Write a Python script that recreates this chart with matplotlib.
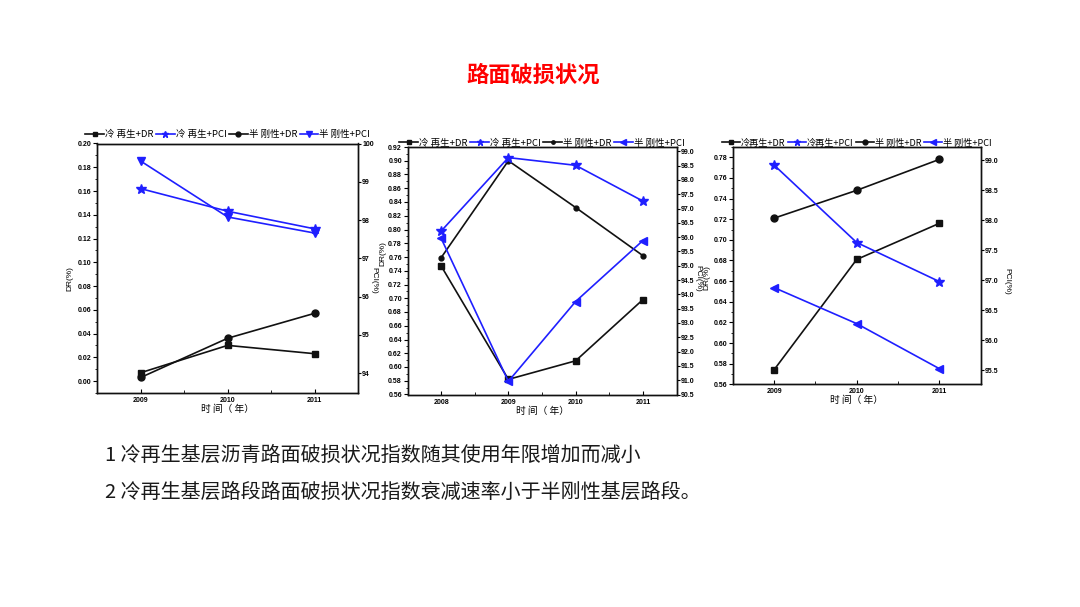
import matplotlib
matplotlib.use("Agg")
import matplotlib.pyplot as plt
from matplotlib.ticker import MultipleLocator, FormatStrFormatter

plt.rcParams['font.family'] = ['Noto Sans CJK SC', 'DejaVu Sans']

# ---------------- data ----------------
title_text = "路面破损状况"
note_lines = ["1 冷再生基层沥青路面破损状况指数随其使用年限增加而减小",
              "2 冷再生基层路段路面破损状况指数衰减速率小于半刚性基层路段。"]
xlabel_text = "时 间（ 年）"

p1_years = [2009, 2010, 2011]
p1_cold_dr = [0.007, 0.030, 0.023]
p1_semi_dr = [0.003, 0.036, 0.057]
p1_cold_pci = [98.82, 98.23, 97.77]
p1_semi_pci = [99.54, 98.08, 97.66]
p1_labels = ["冷 再生+DR", "冷 再生+PCI", "半 刚性+DR", "半 刚性+PCI"]

p2_years = [2008, 2009, 2010, 2011]
p2_cold_dr = [0.747, 0.582, 0.609, 0.698]
p2_semi_dr = [0.759, 0.900, 0.832, 0.762]
p2_cold_pci = [96.21, 98.78, 98.51, 97.26]
p2_semi_pci = [95.96, 90.96, 93.75, 95.88]
p2_labels = ["冷 再生+DR", "冷 再生+PCI", "半 刚性+DR", "半 刚性+PCI"]

p3_years = [2009, 2010, 2011]
p3_cold_dr = [0.574, 0.681, 0.716]
p3_semi_dr = [0.721, 0.748, 0.778]
p3_cold_pci = [98.92, 97.63, 96.98]
p3_semi_pci = [96.88, 96.28, 95.53]
p3_labels = ["冷再生+DR", "冷再生+PCI", "半 刚性+DR", "半 刚性+PCI"]

BLACK = "#111111"
BLUE = "#1f1fff"
LATIN = ['Liberation Sans', 'DejaVu Sans']

fig = plt.figure(figsize=(10.8, 6.07), dpi=100)
fig.patch.set_facecolor("white")


def panel(rect, years, cdr, sdr, cpci, spci, labels, xlim, ylim_l, ylim_r,
          lstep, rstep, lfmt, rfmt, lticks0, rticks0, semi_pci_marker,
          semi_dr_ms, dr_pos, pci_pos, leg_y, leg_fs):
    ax = fig.add_axes(rect)
    ax2 = ax.twinx()
    h1, = ax.plot(years, cdr, color=BLACK, marker='s', ms=5, lw=1.2)
    h3, = ax.plot(years, sdr, color=BLACK, marker='o', ms=semi_dr_ms, lw=1.2)
    h2, = ax2.plot(years, cpci, color=BLUE, marker='*', ms=7, lw=1.2)
    h4, = ax2.plot(years, spci, color=BLUE, marker=semi_pci_marker, ms=6, lw=1.2)
    ax.set_xlim(*xlim)
    ax.set_ylim(*ylim_l)
    ax2.set_ylim(*ylim_r)
    ax.set_xticks(years)
    ax.set_xticklabels([str(y) for y in years])
    ax.xaxis.set_minor_locator(MultipleLocator(0.5))
    ax.yaxis.set_major_locator(MultipleLocator(lstep))
    ax.yaxis.set_minor_locator(MultipleLocator(lstep / 2))
    ax.yaxis.set_major_formatter(FormatStrFormatter(lfmt))
    ax2.yaxis.set_major_locator(MultipleLocator(rstep))
    ax2.yaxis.set_major_formatter(FormatStrFormatter(rfmt))
    ax.tick_params(axis='x', direction='in', length=3, width=0.8, labelsize=5, pad=3)
    ax.tick_params(axis='x', which='minor', direction='in', length=2, width=0.6)
    ax.tick_params(axis='y', direction='out', length=3, width=0.8, labelsize=5, pad=1)
    ax.tick_params(axis='y', which='minor', direction='out', length=1.5, width=0.6)
    ax2.tick_params(axis='y', direction='out', length=2.5, width=0.8, labelsize=5, pad=0.5)
    for a in (ax, ax2):
        for s in a.spines.values():
            s.set_linewidth(1.0)
            s.set_color(BLACK)
        for t in a.get_yticklabels() + a.get_xticklabels():
            t.set_fontweight('bold')
            t.set_family(['Liberation Sans Narrow', 'Liberation Sans', 'DejaVu Sans'])
    ax.set_yticks([t for t in ax.get_yticks() if lticks0 - 1e-9 <= t <= ylim_l[1] + 1e-9])
    ax2.set_yticks([t for t in ax2.get_yticks() if rticks0 - 1e-9 <= t <= ylim_r[1] + 1e-9])
    ax.set_ylim(*ylim_l)
    ax2.set_ylim(*ylim_r)
    ax.set_xlabel(xlabel_text, fontsize=7, labelpad=0)
    ax.set_ylabel("DR(%)", fontsize=6.0, family=LATIN)
    ax.yaxis.set_label_coords(*dr_pos)
    ax2.set_ylabel("PCI(%)", fontsize=6.0, rotation=270, family=LATIN)
    ax2.yaxis.set_label_coords(*pci_pos)
    ax.legend([h1, h2, h3, h4], labels, loc='lower center',
              bbox_to_anchor=(0.5, leg_y), ncol=4, frameon=False,
              fontsize=leg_fs, handlelength=2.0, handletextpad=0.1,
              columnspacing=0.25, borderaxespad=0.1, markerscale=0.7,
              borderpad=0.1)
    return ax, ax2


W, H = 1080, 607


def rect(l, r, t, b):
    return [l / W, (H - b) / H, (r - l) / W, (b - t) / H]


panel(rect(97.3, 358, 143.5, 393), p1_years, p1_cold_dr, p1_semi_dr, p1_cold_pci,
      p1_semi_pci, p1_labels, (2008.5, 2011.5), (-0.0101, 0.20), (93.48, 100.0),
      0.02, 1, '%.2f', '%.0f', 0.0, 94, 'v', 5, (-0.09, 0.46), (1.075, 0.45), 1.01, 6.8)

panel(rect(407.5, 676.5, 147, 394.5), p2_years, p2_cold_dr, p2_semi_dr, p2_cold_pci,
      p2_semi_pci, p2_labels, (2007.5, 2011.5), (0.56, 0.92), (90.5, 99.15),
      0.02, 0.5, '%.2f', '%.1f', 0.56, 90.5, '<', 3.5, (-0.078, 0.57), (1.091, 0.47), 0.99, 6.8)

panel(rect(732.7, 980.7, 147, 384.3), p3_years, p3_cold_dr, p3_semi_dr, p3_cold_pci,
      p3_semi_pci, p3_labels, (2008.5, 2011.5), (0.56, 0.79), (95.27, 99.22),
      0.02, 0.5, '%.2f', '%.1f', 0.56, 95.5, '<', 5, (-0.0895, 0.45), (1.12, 0.435), 0.99, 6.6)

fig.text(533 / W, 1 - 75 / H, title_text, color='red', fontsize=16,
         fontweight='bold', ha='center', va='center')
fig.text(105 / W, 1 - 455 / H, note_lines[0], color='#1a1a1a', fontsize=14.45,
         ha='left', va='center')
fig.text(105 / W, 1 - 492 / H, note_lines[1], color='#1a1a1a', fontsize=14.45,
         ha='left', va='center')

fig.savefig("out.png", dpi=100, facecolor='white')
